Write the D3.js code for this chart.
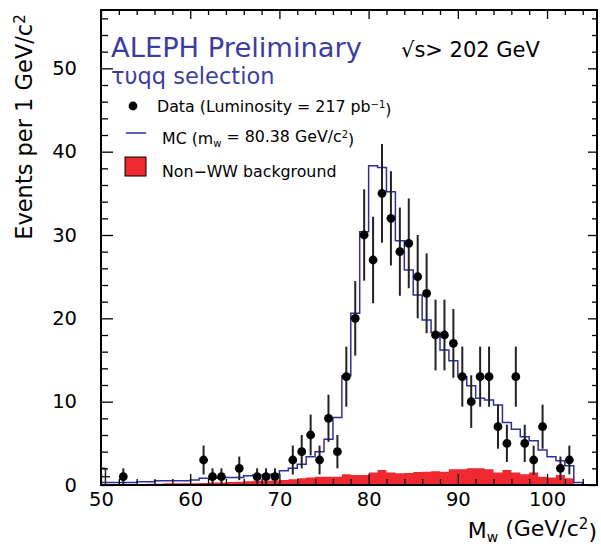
<!DOCTYPE html>
<html><head><meta charset="utf-8">
<script src="https://cdn.jsdelivr.net/npm/d3@7"></script>
<style>
body{margin:0;background:#fff}
svg{display:block}
text{font-family:"DejaVu Sans","Liberation Sans",Arial,sans-serif}
</style>
</head><body><svg id="c" width="601" height="546"></svg>
<script>
// ---- data ----
const binStarts = [50,51,52,53,54,55,56,57,58,59,60,61,62,63,64,65,66,67,68,69,70,71,72,73,74,75,76,77,78,79,80,81,82,83,84,85,86,87,88,89,90,91,92,93,94,95,96,97,98,99,100,101,102,103];
const mcValues = [0.3,0.3,0.3,0.3,0.4,0.4,0.5,0.5,0.5,0.5,
  0.6,0.8,0.8,0.9,0.9,0.9,1.1,1.2,1.2,1.3,
  1.7,2.0,2.5,3.4,4.0,5.5,8.1,13.1,20.6,30.4,
  38.3,38.1,35.2,29.3,25.8,22.8,19.8,18.3,16.2,14.9,
  13.0,11.9,10.4,10.2,9.6,7.5,6.7,5.8,5.3,4.2,
  3.4,2.9,2.3,0.3];
const bkgValues = [0.1,0.1,0.1,0.1,0.1,0.15,0.15,0.2,0.2,0.2,
  0.2,0.25,0.3,0.3,0.35,0.4,0.45,0.5,0.5,0.55,
  0.6,0.7,0.8,0.9,1.0,1.0,1.0,1.3,1.2,1.2,
  1.5,1.8,1.5,1.4,1.45,1.55,1.6,1.65,1.6,1.9,
  1.9,2.0,2.0,1.9,1.5,1.8,1.5,1.3,1.5,1.0,
  0.9,1.2,0.8,0.0];
const dataX = [52.5,61.5,62.5,63.5,65.5,67.5,68.5,69.5,71.5,72.5,73.5,74.5,75.5,76.5,77.5,78.5,79.5,80.5,81.5,82.5,83.5,84.5,85.5,86.5,87.5,88.5,89.5,90.5,91.5,92.5,93.5,94.5,95.5,96.5,97.5,98.5,99.5,101.5,102.5];
const dataN = [1,3,1,1,2,1,1,1,3,4,6,3,8,4,13,20,30,27,35,32,28,29,25,23,18,18,17,13,10,13,13,7,5,13,5,3,7,2,3];
// underflow cross drawn at the edge (no marker)
const edgeX = [50.5];
const edgeN = [1];
const xMajorTicks = [50,60,70,80,90,100];
const xMinorTicks = [52,54,56,58,62,64,66,68,72,74,76,78,82,84,86,88,92,94,96,98,102,104];
const yMajorTicks = [0,10,20,30,40,50];
const yMinorTicks = [2,4,6,8,12,14,16,18,22,24,26,28,32,34,36,38,42,44,46,48,52,54,56];

const blueText = "#3d3d9e", mcBlue = "#2e2e9c", bkgRed = "#ee2a30";
const FF = '"DejaVu Sans","Liberation Sans",Arial,sans-serif';

const svg = d3.select("#c");
const x = d3.scaleLinear().domain([50,105.6]).range([101,597]);
const y = d3.scaleLinear().domain([0,57]).range([485,10]);
const binW = 1;

const plot = svg.append("g");
plot.append("clipPath").attr("id","clip").append("rect")
  .attr("x",x(50)).attr("y",y(57)).attr("width",x(105.6)-x(50)).attr("height",y(0)-y(57));
const inner = plot.append("g").attr("clip-path","url(#clip)");

// background filled histogram
const bkgArea = d3.area().curve(d3.curveStepAfter)
  .x(d=>x(d[0])).y0(y(0)).y1(d=>y(d[1]));
const bkgPts = binStarts.map((b,i)=>[b,bkgValues[i]]);
bkgPts.push([binStarts[binStarts.length-1]+binW, bkgValues[bkgValues.length-1]]);
inner.append("path").attr("d",bkgArea(bkgPts)).attr("fill",bkgRed);

// MC step line
const mcPts = [[binStarts[0],0]].concat(binStarts.map((b,i)=>[b,mcValues[i]]));
mcPts.push([binStarts[binStarts.length-1]+binW,0]);
const stepLine = d3.line().curve(d3.curveStepAfter).x(d=>x(d[0])).y(d=>y(d[1]));
inner.append("path").attr("d",stepLine(mcPts)).attr("fill","none")
  .attr("stroke",mcBlue).attr("stroke-width",1.5);

// edge cross
edgeX.forEach((cx,i)=>{
  const n = edgeN[i], e = Math.sqrt(n);
  inner.append("line").attr("x1",x(cx)).attr("x2",x(cx)).attr("y1",y(n+e)).attr("y2",y(Math.max(0,n-e)))
    .attr("stroke","#222").attr("stroke-width",1.5);
  inner.append("line").attr("x1",x(cx-0.5)).attr("x2",x(cx+0.5)).attr("y1",y(n)).attr("y2",y(n))
    .attr("stroke","#222").attr("stroke-width",1.5);
  inner.append("line").attr("x1",x(cx-0.5)).attr("x2",x(cx)).attr("y1",y(n+e)).attr("y2",y(n+e))
    .attr("stroke","#222").attr("stroke-width",1.5);
});

// data error bars + markers
const dg = inner.append("g");
dataX.forEach((cx,i)=>{
  const n = dataN[i], e = Math.sqrt(n);
  dg.append("line").attr("x1",x(cx)).attr("x2",x(cx))
    .attr("y1",y(n+e)).attr("y2",y(Math.max(0,n-e)))
    .attr("stroke","#222").attr("stroke-width",2);
});
dataX.forEach((cx,i)=>{
  dg.append("circle").attr("cx",x(cx)).attr("cy",y(dataN[i])).attr("r",4.4).attr("fill","#000");
});

// axes
function styleAxis(g){ g.select(".domain").remove(); g.selectAll("line").attr("stroke","#000").attr("stroke-width",1.3); }
const fontTick = "19.5px";
svg.append("g").attr("transform",`translate(0,${y(0)})`)
  .call(d3.axisBottom(x).tickValues(xMajorTicks).tickSize(-11).tickPadding(7).tickFormat(d3.format("d")))
  .call(styleAxis).selectAll("text").attr("font-size",fontTick).attr("fill","#000").style("font-family",FF);
svg.append("g").attr("transform",`translate(0,${y(0)})`)
  .call(d3.axisBottom(x).tickValues(xMinorTicks).tickSize(-6).tickFormat(""))
  .call(styleAxis);
svg.append("g").attr("transform",`translate(0,${y(57)})`)
  .call(d3.axisTop(x).tickValues(xMajorTicks).tickSize(-9).tickFormat(""))
  .call(styleAxis);
svg.append("g").attr("transform",`translate(0,${y(57)})`)
  .call(d3.axisTop(x).tickValues(xMinorTicks).tickSize(-5).tickFormat(""))
  .call(styleAxis);
svg.append("g").attr("transform",`translate(${x(50)},0)`)
  .call(d3.axisLeft(y).tickValues(yMajorTicks).tickSize(-12).tickPadding(24).tickFormat(d3.format("d")))
  .call(styleAxis).selectAll("text").attr("font-size",fontTick).attr("fill","#000").style("font-family",FF);
svg.append("g").attr("transform",`translate(${x(50)},0)`)
  .call(d3.axisLeft(y).tickValues(yMinorTicks).tickSize(-7).tickFormat(""))
  .call(styleAxis);
svg.append("g").attr("transform",`translate(${x(105.6)},0)`)
  .call(d3.axisRight(y).tickValues(yMajorTicks).tickSize(-9).tickFormat(""))
  .call(styleAxis);
svg.append("g").attr("transform",`translate(${x(105.6)},0)`)
  .call(d3.axisRight(y).tickValues(yMinorTicks).tickSize(-5).tickFormat(""))
  .call(styleAxis);

// frame
svg.append("rect").attr("x",x(50)).attr("y",y(57)).attr("width",x(105.6)-x(50)).attr("height",y(0)-y(57))
  .attr("fill","none").attr("stroke","#000").attr("stroke-width",2);

// axis titles
const yl = svg.append("text").attr("transform","translate(32,127) rotate(-90)")
  .attr("text-anchor","middle").attr("font-size","22.5px").attr("fill","#000");
yl.append("tspan").text("Events per 1 GeV/c");
yl.append("tspan").attr("dy","-0.45em").attr("font-size","15px").text("2");

const xl = svg.append("text").attr("x",597).attr("y",538).attr("text-anchor","end").attr("font-size","22px").attr("fill","#000");
xl.append("tspan").text("M");
xl.append("tspan").attr("dy","0.3em").attr("font-size","14px").text("w");
xl.append("tspan").attr("dy","-0.3em").text(" (GeV/c");
xl.append("tspan").attr("dy","-0.45em").attr("font-size","15px").text("2");
xl.append("tspan").attr("dy","0.45em").text(")");

// titles
svg.append("text").attr("x",111).attr("y",57).attr("font-size","27.3px").attr("fill",blueText).text("ALEPH Preliminary");
svg.append("text").attr("x",111).attr("y",84).attr("font-size","22.5px").attr("fill",blueText).text("τυqq selection");
svg.append("text").attr("x",401).attr("y",57).attr("font-size","21px").attr("fill","#000").text("√s> 202 GeV");

// legend
svg.append("circle").attr("cx",133).attr("cy",106).attr("r",4.4).attr("fill","#000");
const t1 = svg.append("text").attr("x",157).attr("y",112).attr("font-size","15.8px").attr("fill","#000");
t1.append("tspan").text("Data (Luminosity = 217 pb");
t1.append("tspan").attr("dy","-0.45em").attr("font-size","10px").text("−1");
t1.append("tspan").attr("dy","0.45em").text(")");

svg.append("line").attr("x1",126).attr("x2",146).attr("y1",133).attr("y2",133).attr("stroke",mcBlue).attr("stroke-width",1.5);
const t2 = svg.append("text").attr("x",162).attr("y",144).attr("font-size","15.8px").attr("fill","#000");
t2.append("tspan").text("MC (m");
t2.append("tspan").attr("dy","0.3em").attr("font-size","10px").text("w");
t2.append("tspan").attr("dy","-0.3em").text(" = 80.38 GeV/c");
t2.append("tspan").attr("dy","-0.45em").attr("font-size","10px").text("2");
t2.append("tspan").attr("dy","0.45em").text(")");

svg.append("rect").attr("x",125).attr("y",157).attr("width",21).attr("height",19).attr("fill",bkgRed).attr("stroke","#000").attr("stroke-width",1);
svg.append("text").attr("x",162).attr("y",177).attr("font-size","15.8px").attr("fill","#000").text("Non−WW background");
</script>
</body></html>
